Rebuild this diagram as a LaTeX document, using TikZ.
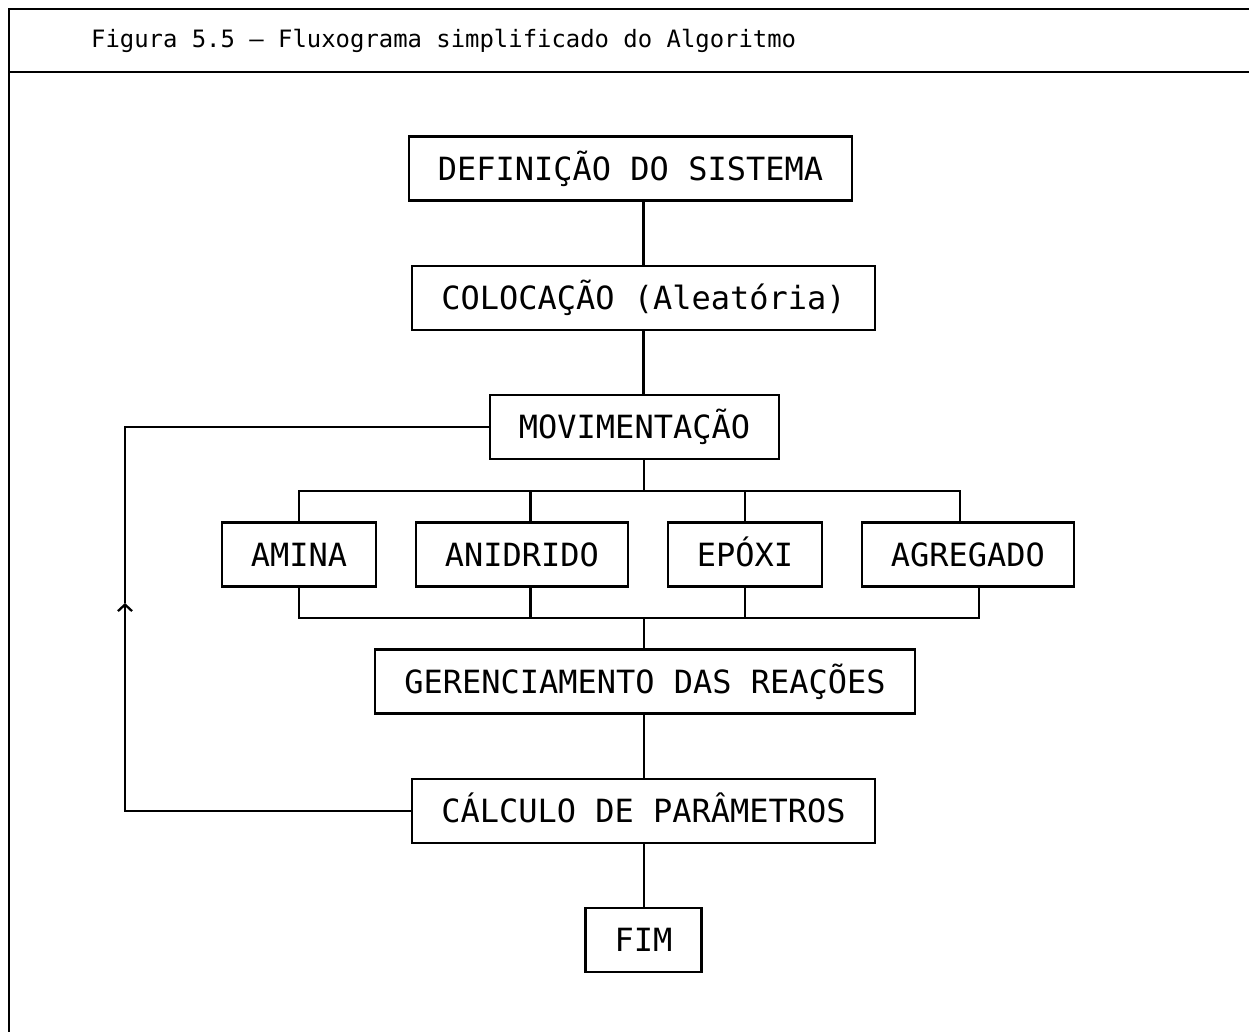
\documentclass[tikz,border=0pt]{standalone}
\usepackage{fontspec}
\usepackage{tikz}
\usetikzlibrary{arrows.meta,positioning,calc}
\newfontfamily\printfont{DejaVu Sans Mono}

\begin{document}
\begin{tikzpicture}[
  node distance=12.6mm and 7.5mm,
  font=\printfont\fontsize{18.2}{22}\selectfont,
  every path/.style={line width=1.3pt},
  box/.style={draw, inner xsep=5.8mm, inner ysep=0pt, minimum height=12.8mm,
    text height=16pt, text depth=2.7pt},
  arrow/.style={-{Straight Barb[length=1.3mm, width=2.8mm]}}
]
\useasboundingbox (0,0) rectangle (24.98,-20.64);
\draw (24.98,-0.18) -- (0.18,-0.18) -- (0.18,-20.64);
\draw (0.18,-1.44) -- (24.98,-1.44);
\node[anchor=base west, inner sep=0pt, font=\printfont\fontsize{13.6}{16}\selectfont] (title) at (1.8,-0.96) {Figura 5.5 – Fluxograma simplificado do Algoritmo};

\node[box] (def) at (12.61,-3.37) {DEFINIÇÃO DO SISTEMA};
\node[box, below=of def, xshift=2.6mm] (col) {COLOCAÇÃO (Aleatória)};
\node[box, below=of col, xshift=-1.8mm] (mov) {MOVIMENTAÇÃO};
\node[box] (amina) at (5.98,-11.09) {AMINA};
\node[box, right=of amina] (anidrido) {ANIDRIDO};
\node[box, right=of anidrido] (epoxi) {EPÓXI};
\node[box, right=of epoxi] (agregado) {AGREGADO};
\node[box] (ger) at (12.9,-13.63) {GERENCIAMENTO DAS REAÇÕES};
\node[box, below=of ger, xshift=-0.3mm] (calc) {CÁLCULO DE PARÂMETROS};
\node[box, below=of calc] (fim) {FIM};

\coordinate (spine) at (12.88,0);
\coordinate (bt) at (0,-9.82);
\coordinate (bb) at (0,-12.36);
\coordinate (loopmid) at (2.5,-12.06);

\draw (col.north) -- (col.north |- def.south);
\draw (col.south) -- (col.south |- mov.north);
\draw (mov.south -| spine) -- (spine |- bt);
\draw (amina.north) -- (amina.north |- bt) -- ([xshift=-1.5mm]agregado.north |- bt) -- ([xshift=-1.5mm]agregado.north);
\draw ([xshift=1.7mm]anidrido.north) -- ([xshift=1.7mm]anidrido.north |- bt);
\draw (epoxi.north) -- (epoxi.north |- bt);
\draw (amina.south) -- (amina.south |- bb) -- ([xshift=2.3mm]agregado.south |- bb) -- ([xshift=2.3mm]agregado.south);
\draw ([xshift=1.7mm]anidrido.south) -- ([xshift=1.7mm]anidrido.south |- bb);
\draw (epoxi.south) -- (epoxi.south |- bb);
\draw (spine |- bb) -- (ger.north -| spine);
\draw (ger.south -| spine) -- (calc.north -| spine);
\draw (calc.south -| spine) -- (fim.north -| spine);
\draw[arrow] (calc.west) -| (loopmid);
\draw (loopmid) |- (mov.west);
\end{tikzpicture}
\end{document}
